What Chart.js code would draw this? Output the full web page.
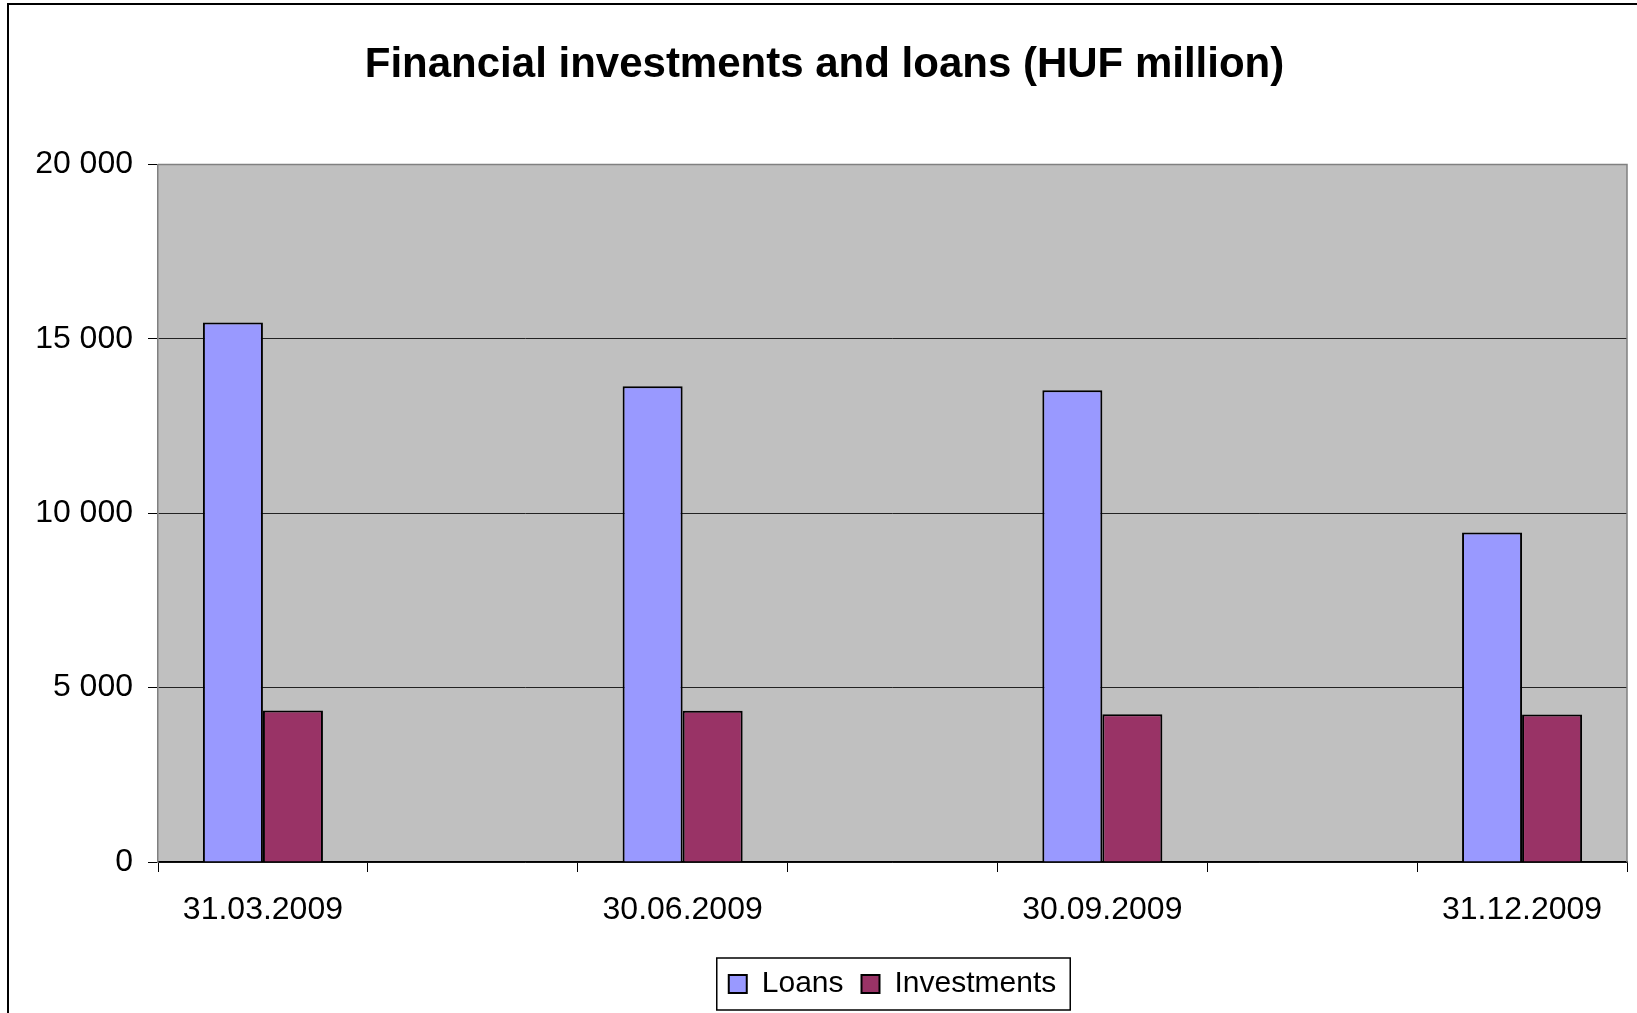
<!DOCTYPE html>
<html>
<head>
<meta charset="utf-8">
<title>Financial investments and loans</title>
<script src="https://cdn.jsdelivr.net/npm/chart.js@4"></script>
<style>
  html, body { margin: 0; padding: 0; background: #fff; }
  canvas { display: block; }
</style>
</head>
<body>
<canvas id="chart" width="1637" height="1013"></canvas>
<script>
// categories (empty slots between quarter-ends, as in the original sheet)
const categories = ["31.03.2009", "", "30.06.2009", "", "30.09.2009", "", "31.12.2009"];
const loans       = [15470, null, 13640, null, 13525, null, 9450];
const investments = [4345,  null, 4335,  null, 4235,  null, 4232];
const yTicks = [0, 5000, 10000, 15000, 20000];

Chart.defaults.font.family = "'Liberation Sans', Arial, sans-serif";
Chart.defaults.color = "#000";

// thousands with a space: 20 000
function fmt(v) {
  return String(v).replace(/\B(?=(\d{3})+(?!\d))/g, " ");
}

// grey plot background + frame, outer chart border, legend frame
const decor = {
  id: "decor",
  beforeDraw(chart) {
    const { ctx, chartArea: a } = chart;
    ctx.save();
    ctx.fillStyle = "#fff";
    ctx.fillRect(0, 0, chart.width, chart.height);
    ctx.fillStyle = "#C0C0C0";
    ctx.fillRect(a.left, a.top, a.right - a.left, a.bottom - a.top);
    // outer border (left + top visible)
    ctx.strokeStyle = "#000";
    ctx.lineWidth = 2;
    ctx.beginPath();
    ctx.moveTo(8, chart.height);
    ctx.lineTo(8, 4);
    ctx.lineTo(chart.width, 4);
    ctx.stroke();
    ctx.restore();
  },
  beforeDatasetsDraw(chart) {
    const { ctx, chartArea: a } = chart;
    ctx.save();
    ctx.strokeStyle = "#808080";
    ctx.lineWidth = 1.5;
    ctx.beginPath();
    ctx.moveTo(a.left, a.top);
    ctx.lineTo(a.right, a.top);
    ctx.lineTo(a.right, a.bottom);
    ctx.stroke();
    ctx.restore();
  },
  afterDraw(chart) {
    const lg = chart.legend;
    if (!lg || !lg.legendHitBoxes.length) return;
    const hb = lg.legendHitBoxes;
    const left = Math.min(...hb.map(h => h.left)) - 12;
    const right = Math.max(...hb.map(h => h.left + h.width)) + 14;
    const top = Math.min(...hb.map(h => h.top)) - 11;
    const bottom = Math.max(...hb.map(h => h.top + h.height)) + 11;
    const ctx = chart.ctx;
    ctx.save();
    ctx.strokeStyle = "#000";
    ctx.lineWidth = 1.5;
    ctx.strokeRect(left, top, right - left, bottom - top);
    ctx.restore();
  }
};

new Chart(document.getElementById("chart"), {
  type: "bar",
  data: {
    labels: categories,
    datasets: [
      {
        label: "Loans",
        data: loans,
        backgroundColor: "#9999FF",
        borderColor: "#000",
        borderWidth: 2,
        categoryPercentage: 0.572,
        barPercentage: 1.0
      },
      {
        label: "Investments",
        data: investments,
        backgroundColor: "#993366",
        borderColor: "#000",
        borderWidth: 2,
        categoryPercentage: 0.572,
        barPercentage: 1.0
      }
    ]
  },
  options: {
    responsive: false,
    animation: false,
    devicePixelRatio: 1,
    layout: { padding: { left: 22, right: 10, top: 0, bottom: 4 } },
    plugins: {
      title: {
        display: true,
        text: "Financial investments and loans (HUF million)",
        color: "#000",
        font: { size: 42, weight: "bold" },
        padding: { top: 40, bottom: 74 }
      },
      legend: {
        position: "bottom",
        fullSize: false,
        labels: {
          boxWidth: 18,
          boxHeight: 18,
          padding: 18,
          color: "#000",
          font: { size: 30 }
        }
      },
      tooltip: { enabled: false }
    },
    scales: {
      x: {
        offset: true,
        grid: {
          offset: true,
          drawOnChartArea: false,
          drawTicks: true,
          tickLength: 10,
          color: "#000",
          lineWidth: 1
        },
        border: { color: "#000", width: 1.5 },
        ticks: {
          autoSkip: false,
          maxRotation: 0,
          padding: 19,
          color: "#000",
          font: { size: 32 }
        },
        afterFit(scale) { scale.height = 89; }
      },
      y: {
        min: 0,
        max: 20000,
        afterBuildTicks(scale) {
          scale.ticks = yTicks.map(v => ({ value: v }));
        },
        grid: {
          color: "#222",
          tickColor: "#000",
          tickLength: 10,
          lineWidth: 1
        },
        border: { color: "#808080", width: 1.5 },
        ticks: {
          padding: 15,
          color: "#000",
          font: { size: 32 },
          callback: v => fmt(v)
        },
        afterFit(scale) { scale.width = 136; }
      }
    }
  },
  plugins: [decor]
});
</script>
</body>
</html>
